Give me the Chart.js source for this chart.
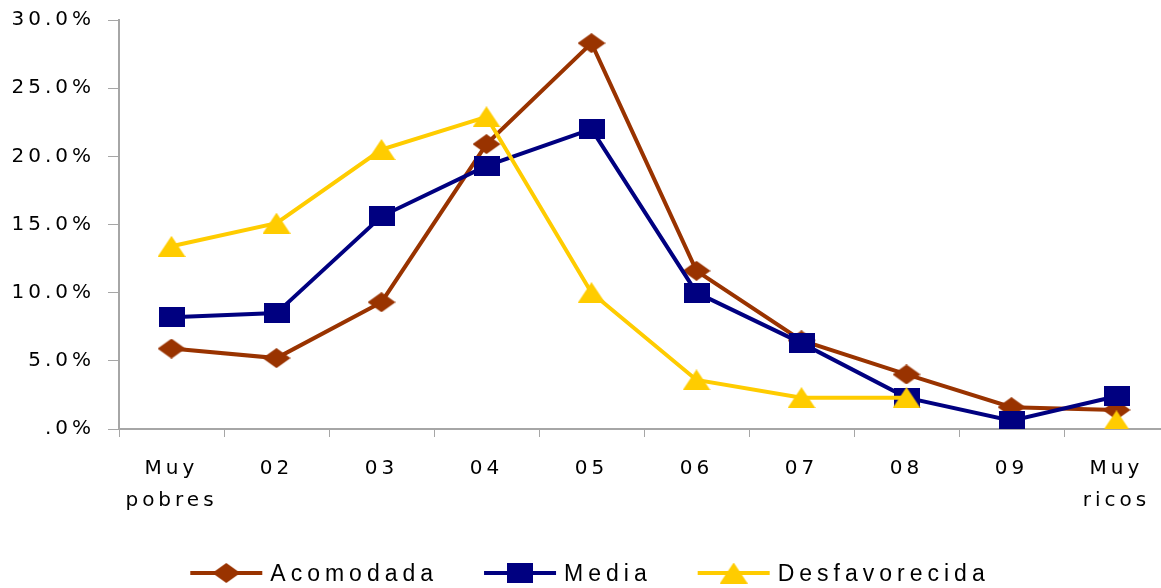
<!DOCTYPE html>
<html>
<head>
<meta charset="utf-8">
<title>Distribución por decil de ingreso</title>
<script src="https://cdn.jsdelivr.net/npm/chart.js@4/dist/chart.umd.min.js"></script>
<style>
  html, body { margin: 0; padding: 0; background: #ffffff; overflow: hidden; }
  canvas { display: block; }
</style>
</head>
<body>
<!-- the plot runs a few pixels past the right edge of the window -->
<canvas id="chart" width="1169" height="588"></canvas>
<script>
// Income deciles (x axis)
const categories = [['Muy', 'pobres'], '02', '03', '04', '05', '06', '07', '08', '09', ['Muy', 'ricos']];

// Share of each group per decile, in percent
const acomodada     = [5.9, 5.2, 9.3, 20.9, 28.3, 11.6, 6.5, 4.0, 1.6, 1.4];
const media         = [8.2, 8.5, 15.6, 19.3, 22.0, 10.0, 6.3, 2.3, 0.6, 2.4];
const desfavorecida = [13.4, 15.1, 20.5, 22.9, 10.0, 3.6, 2.3, 2.3, null, 0.6];

const seriesNames = ['Acomodada', 'Media', 'Desfavorecida'];

// Y axis range and step, in percent
const yMin = 0;
const yMax = 30;
const yStep = 5;

const colors = {
  acomodada: '#993300',
  media: '#000080',
  desfavorecida: '#FFCC00'
};

// Small offscreen canvases used as point markers
function makeMarker(shape, color, w, h) {
  const c = document.createElement('canvas');
  c.width = w; c.height = h;
  const g = c.getContext('2d');
  g.fillStyle = color;
  g.beginPath();
  if (shape === 'diamond') {
    g.moveTo(w / 2, 0); g.lineTo(w, h / 2); g.lineTo(w / 2, h); g.lineTo(0, h / 2);
  } else if (shape === 'square') {
    g.rect(0, 0, w, h);
  } else {
    g.moveTo(w / 2, 0); g.lineTo(w, h); g.lineTo(0, h);
  }
  g.closePath();
  g.fill();
  return c;
}

const markers = {
  acomodada: makeMarker('diamond', colors.acomodada, 28, 20),
  media: makeMarker('square', colors.media, 26, 20),
  desfavorecida: makeMarker('triangle', colors.desfavorecida, 28, 21)
};

const TICK_SPACING = '4px';

// Wide letter spacing for axis labels
const spacingPlugin = {
  id: 'spacing',
  afterInit(chart) { chart.ctx.letterSpacing = TICK_SPACING; },
  beforeUpdate(chart) { chart.ctx.letterSpacing = TICK_SPACING; },
  beforeLayout(chart) { chart.ctx.letterSpacing = TICK_SPACING; },
  beforeDraw(chart) { chart.ctx.letterSpacing = TICK_SPACING; }
};

// Legend below the plot: line segment with marker, then the series name
const lineLegend = {
  id: 'lineLegend',
  afterDraw(chart) {
    const ctx = chart.ctx;
    ctx.save();
    ctx.font = '23px "Liberation Sans", Arial, sans-serif';
    ctx.letterSpacing = '5px';
    const lineLen = 72, textGap = 8, itemGap = 46;
    const items = chart.data.datasets.map(ds => ({ ds, tw: ctx.measureText(ds.label).width }));
    const total = items.reduce((s, it) => s + lineLen + textGap + it.tw, 0) + itemGap * (items.length - 1);
    let x = 590 - total / 2;
    const y = 573;
    items.forEach(it => {
      ctx.strokeStyle = it.ds.borderColor;
      ctx.lineWidth = 4;
      ctx.beginPath();
      ctx.moveTo(x, y);
      ctx.lineTo(x + lineLen, y);
      ctx.stroke();
      const m = it.ds.pointStyle;
      ctx.drawImage(m, x + lineLen / 2 - m.width / 2, y - m.height / 2);
      ctx.fillStyle = '#000000';
      ctx.textBaseline = 'alphabetic';
      ctx.textAlign = 'left';
      ctx.fillText(it.ds.label, x + lineLen + textGap, y + 8);
      x += lineLen + textGap + it.tw + itemGap;
    });
    ctx.restore();
  }
};

function series(label, data, key, order) {
  return {
    label,
    data,
    borderColor: colors[key],
    backgroundColor: colors[key],
    borderWidth: 4,
    pointStyle: markers[key],
    pointRadius: 12,
    pointHoverRadius: 12,
    tension: 0,
    spanGaps: false,
    order
  };
}

new Chart(document.getElementById('chart'), {
  type: 'line',
  data: {
    labels: categories,
    datasets: [
      series(seriesNames[0], acomodada, 'acomodada', 3),
      series(seriesNames[1], media, 'media', 2),
      series(seriesNames[2], desfavorecida, 'desfavorecida', 1)
    ]
  },
  options: {
    responsive: false,
    animation: false,
    events: [],
    layout: { autoPadding: false, padding: { top: 20, right: 0, bottom: 0, left: 0 } },
    plugins: {
      legend: { display: false },
      tooltip: { enabled: false }
    },
    scales: {
      x: {
        offset: true,
        grid: {
          offset: true,
          drawOnChartArea: false,
          drawTicks: true,
          tickLength: 8,
          color: '#A6A6A6',
          lineWidth: 1
        },
        border: { display: true, color: '#A6A6A6', width: 2 },
        ticks: {
          color: '#000000',
          font: { family: '"DejaVu Sans", Verdana, sans-serif', size: 20, lineHeight: 1.6 },
          padding: 16,
          maxRotation: 0,
          autoSkip: false
        },
        afterFit(scale) {
          scale.height = 159;
          scale.paddingLeft = 0;
          scale.paddingRight = 0;
        }
      },
      y: {
        min: yMin,
        max: yMax,
        grid: {
          drawOnChartArea: false,
          drawTicks: true,
          tickLength: 11,
          color: '#A6A6A6',
          lineWidth: 1
        },
        border: { display: true, color: '#A6A6A6', width: 2 },
        ticks: {
          stepSize: yStep,
          color: '#000000',
          font: { family: '"DejaVu Sans", Verdana, sans-serif', size: 20 },
          padding: 13,
          callback(v) { return v === 0 ? '.0%' : v.toFixed(1) + '%'; }
        },
        afterFit(scale) {
          scale.width = 119;
          scale.paddingTop = 0;
          scale.paddingBottom = 0;
        }
      }
    }
  },
  plugins: [spacingPlugin, lineLegend]
});
</script>
</body>
</html>
